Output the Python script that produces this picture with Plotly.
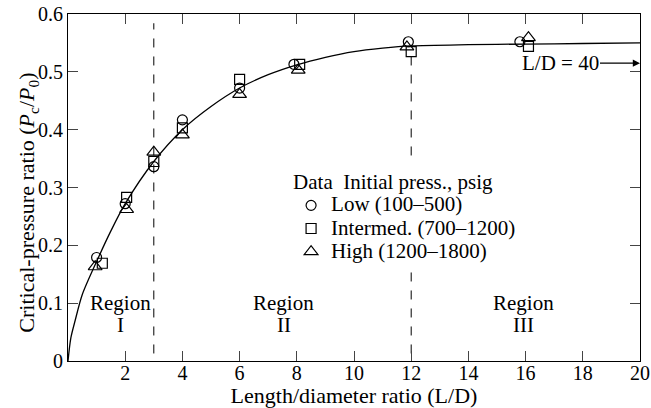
import plotly.graph_objects as go

# Data
low_x = [1.0, 2.0, 3.0, 4.0, 6.0, 7.9, 11.9, 15.8]
low_y = [0.179, 0.272, 0.336, 0.417, 0.472, 0.513, 0.552, 0.552]
int_x = [1.2, 2.05, 3.0, 4.0, 6.0, 8.1, 12.0, 16.1]
int_y = [0.169, 0.283, 0.345, 0.403, 0.487, 0.513, 0.535, 0.544]
high_x = [0.95, 2.05, 3.0, 4.0, 6.0, 8.05, 11.85, 16.1]
high_y = [0.163, 0.262, 0.361, 0.391, 0.461, 0.503, 0.543, 0.559]

curve_x = [0, 0.1, 0.25, 0.5, 1, 1.5, 2, 3, 4, 5, 6, 7, 8, 9, 10, 11, 12, 14, 16, 18, 20]
curve_y = [0, 0.04, 0.07, 0.115, 0.172, 0.225, 0.272, 0.345, 0.400, 0.440, 0.472,
           0.495, 0.512, 0.525, 0.535, 0.541, 0.545, 0.547, 0.548, 0.549, 0.550]

series_names = ["Low (100–500)", "Intermed. (700–1200)", "High (1200–1800)"]
legend_title = "Data\u00a0\u00a0Initial press., psig"

region_x = [1.82, 7.55, 15.94]
region_word = "Region"
region_numerals = ["I", "II", "III"]
boundaries = [3, 12]

x_ticks = [2, 4, 6, 8, 10, 12, 14, 16, 18, 20]
y_ticks = [0, 0.1, 0.2, 0.3, 0.4, 0.5, 0.6]
y_ticktext = ["0", "0.1", "0.2", "0.3", "0.4", "0.5", "0.6"]

x_title = "Length/diameter ratio (L/D)"
y_title = "Critical-pressure ratio (<i>P</i><sub>c</sub>/<i>P</i><sub>0</sub>)"

FONT = "Liberation Serif"
FS = 21


def big(t):
    return '<span style="font-size:%dpx">%s</span>' % (FS, t)


fig = go.Figure()
fig.add_trace(go.Scatter(x=curve_x, y=curve_y, mode="lines",
                         line=dict(color="black", width=1.3, shape="spline", smoothing=0.8),
                         showlegend=False, hoverinfo="skip"))
fig.add_trace(go.Scatter(x=low_x, y=low_y, mode="markers", name=big(series_names[0]),
                         marker=dict(symbol="circle-open", size=10, color="black", line=dict(width=1.2))))
fig.add_trace(go.Scatter(x=int_x, y=int_y, mode="markers", name=big(series_names[1]),
                         marker=dict(symbol="square-open", size=10, color="black", line=dict(width=1.2))))
fig.add_trace(go.Scatter(x=high_x, y=high_y, mode="markers", name=big(series_names[2]),
                         marker=dict(symbol="triangle-up-open", size=12, color="black", line=dict(width=1.2))))

for b in boundaries:
    fig.add_shape(type="line", x0=b, x1=b, y0=0.013, y1=0.584 if b == 3 else 0.53,
                  line=dict(color="black", width=1, dash="dash"), layer="below")

for rx, num in zip(region_x, region_numerals):
    fig.add_annotation(x=rx, y=0.100, text=region_word, showarrow=False,
                       font=dict(family=FONT, size=FS, color="black"))
    fig.add_annotation(x=rx, y=0.063, text=num, showarrow=False,
                       font=dict(family=FONT, size=FS, color="black"))

fig.add_annotation(x=20, y=0.515, text="L/D = 40", showarrow=True, ax=-80, ay=0,
                   arrowhead=2, arrowsize=1.2, arrowwidth=1.2, arrowcolor="black",
                   font=dict(family=FONT, size=FS, color="black"))

# y-axis title placed as rotated text to match the reference position
fig.add_annotation(xref="paper", yref="paper", x=-0.069, y=0.455, text=y_title, textangle=-90,
                   showarrow=False, xanchor="center", yanchor="middle",
                   font=dict(family=FONT, size=22, color="black"))

fig.update_layout(
    width=651, height=408,
    margin=dict(l=68, r=11, t=14, b=47),
    paper_bgcolor="white", plot_bgcolor="white",
    font=dict(family=FONT, size=FS, color="black"),
    legend=dict(x=0.39, y=0.575, xanchor="left", yanchor="top",
                bgcolor="white", borderwidth=0,
                title=dict(text=legend_title, font=dict(family=FONT, size=FS)),
                font=dict(family=FONT, size=15.5), itemwidth=30, tracegroupgap=0),
    xaxis=dict(range=[0, 20], tickvals=x_ticks, ticks="inside", ticklen=10, tickwidth=1.2,
               showline=True, linecolor="black", linewidth=1.2, mirror="ticks", showgrid=False, zeroline=False,
               ticklabeloverflow="allow", automargin=False,
               title=dict(text=x_title, standoff=2, font=dict(family=FONT, size=22)),
               tickfont=dict(family=FONT, size=20)),
    yaxis=dict(range=[0, 0.6], tickvals=y_ticks, ticktext=y_ticktext, ticks="inside", ticklen=10, tickwidth=1.2,
               showline=True, linecolor="black", linewidth=1.2, mirror="ticks", showgrid=False, zeroline=False,
               automargin=False,
               tickfont=dict(family=FONT, size=20)),
)

try:
    fig.update_xaxes(ticklabelstandoff=-6)
except Exception:
    pass

fig.write_html("out.html", config={"displayModeBar": False},
               post_script="document.body.style.margin='0';document.body.style.overflow='hidden';")
